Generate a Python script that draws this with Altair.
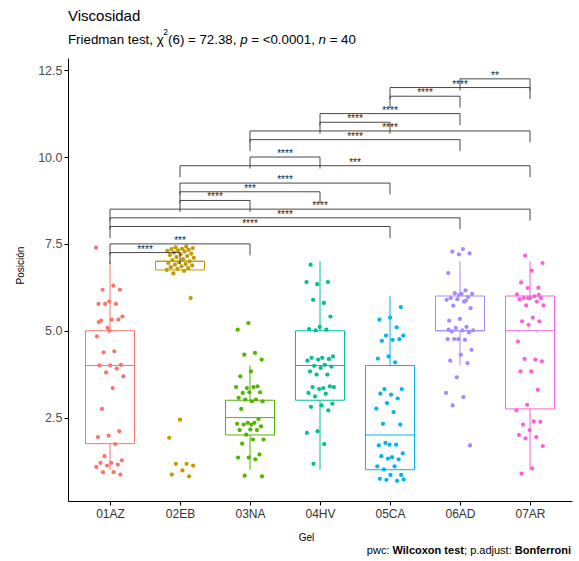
import altair as alt
import pandas as pd

# ---------------- data ----------------
groups = ["01AZ", "02EB", "03NA", "04HV", "05CA", "06AD", "07AR"]
colors = ["#F8766D", "#C49A00", "#53B400", "#00C094", "#00B6EB", "#A58AFF", "#FB61D7"]

pos_01AZ = [7.39, 6.30, 6.18, 6.18, 5.84, 5.77, 5.77, 5.77, 5.41, 5.32,
            5.29, 5.32, 5.08, 4.84, 4.41, 4.38, 4.02, 4.00, 4.00, 3.91,
            3.80, 3.69, 3.35, 2.75, 2.11, 1.98, 1.94, 1.74, 1.39, 1.27,
            1.20, 1.20, 1.15, 1.12, 1.08, 0.93, 0.93, 0.86, 5.00, 5.25]
pos_02EB = [7.42, 7.40, 7.38, 7.36, 7.35, 7.33, 7.31, 7.30, 7.28, 7.25,
            7.22, 7.20, 7.18, 7.15, 7.12, 7.10, 7.06, 7.03, 7.00, 6.97,
            6.95, 6.92, 6.90, 6.88, 6.85, 6.83, 6.80, 6.78, 6.75, 6.72,
            6.65, 5.94, 2.44, 1.92, 1.17, 1.17, 1.12, 0.98, 0.86, 0.81]
pos_03NA = [5.22, 5.03, 4.36, 4.31, 4.17, 3.83, 3.69, 3.40, 3.35, 3.38,
            3.38, 3.21, 3.23, 3.23, 3.07, 3.02, 3.02, 2.97, 2.97, 2.75,
            2.46, 2.35, 2.32, 2.35, 2.30, 2.25, 2.16, 2.14, 2.14, 2.01,
            1.87, 1.87, 1.75, 1.44, 1.35, 1.35, 1.30, 0.83, 0.81, 2.30]
pos_04HV = [6.90, 6.40, 6.34, 6.40, 5.80, 5.89, 5.41, 5.11, 5.05, 5.03,
            5.01, 4.26, 4.22, 4.22, 4.19, 4.17, 4.14, 4.02, 3.99, 3.97,
            3.93, 3.83, 3.74, 3.74, 3.38, 3.35, 3.38, 3.40, 3.32, 3.21,
            3.19, 3.11, 2.90, 2.85, 2.81, 2.71, 2.11, 2.06, 1.74, 1.17]
pos_05CA = [5.68, 5.38, 5.32, 5.10, 4.86, 4.86, 4.74, 4.71, 4.76, 4.26,
            4.20, 4.09, 3.32, 3.32, 3.16, 3.19, 3.05, 2.92, 2.76, 2.66,
            2.32, 2.30, 1.72, 1.70, 1.72, 1.77, 1.47, 1.36, 1.39, 1.30,
            1.32, 1.10, 1.10, 1.01, 0.85, 0.85, 0.74, 0.68, 0.71, 0.72]
pos_06AD = [7.35, 7.28, 7.23, 7.20, 6.66, 6.16, 6.08, 6.06, 6.06, 5.94,
            5.97, 5.91, 5.89, 5.84, 5.72, 5.65, 5.34, 5.29, 5.11, 5.08,
            5.01, 5.01, 4.98, 4.95, 4.76, 4.76, 4.74, 4.76, 4.45, 4.31,
            4.14, 4.07, 3.66, 3.21, 3.09, 2.85, 1.70, 6.03, 5.03, 5.87]
pos_07AR = [7.16, 6.95, 6.73, 6.39, 6.24, 6.23, 6.05, 5.99, 5.94, 5.94,
            5.94, 5.91, 5.84, 5.73, 5.73, 5.38, 5.27, 5.27, 5.17, 4.69,
            4.17, 4.19, 4.12, 3.83, 3.83, 3.30, 2.87, 2.71, 2.39, 2.30,
            2.38, 2.14, 2.00, 1.94, 1.90, 1.68, 1.04, 0.89, 6.03, 5.94]

# box-plot statistics (ranks)
box_lower = [1, 7, 1, 1, 1, 4, 1]
box_q1 = [1.75, 6.75, 2, 3, 1, 5, 2.75]
box_median = [4, 7, 2.5, 4, 2, 5, 5]
box_q3 = [5, 7, 3, 5, 4, 6, 6]
box_upper = [7, 7, 4, 7, 6, 7, 7]

# pairwise comparisons (Wilcoxon, Bonferroni), significant only
pair_g1 = ["01AZ", "01AZ", "01AZ", "01AZ", "01AZ", "02EB", "02EB", "02EB", "02EB",
           "03NA", "03NA", "03NA", "04HV", "04HV", "05CA", "05CA", "06AD"]
pair_g2 = ["02EB", "03NA", "05CA", "06AD", "07AR", "03NA", "04HV", "05CA", "07AR",
           "04HV", "06AD", "07AR", "05CA", "06AD", "06AD", "07AR", "07AR"]
pair_y = [7.25, 7.5, 8.0, 8.25, 8.5, 8.75, 9.0, 9.25, 9.75,
          10.0, 10.5, 10.75, 11.0, 11.25, 11.75, 12.0, 12.25]
pair_label = ["****", "***", "****", "****", "****", "****", "***", "****", "***",
              "****", "****", "****", "****", "****", "****", "****", "**"]

title_text = "Viscosidad"
y_ticks = [2.5, 5.0, 7.5, 10.0, 12.5]

# ---------------- tables ----------------
all_pos = [pos_01AZ, pos_02EB, pos_03NA, pos_04HV, pos_05CA, pos_06AD, pos_07AR]
rows = []
for gi, (g, vals) in enumerate(zip(groups, all_pos)):
    for k, v in enumerate(vals):
        rows.append({"group": g, "gi": gi, "idx": gi * 40 + k, "pos": v})
pts = pd.DataFrame(rows)

box = pd.DataFrame({"group": groups, "gi": list(range(len(groups))),
                    "lower": box_lower, "q1": box_q1, "median": box_median,
                    "q3": box_q3, "upper": box_upper})

gidx = {g: i for i, g in enumerate(groups)}
pairs = pd.DataFrame({"g1": [gidx[g] for g in pair_g1], "g2": [gidx[g] for g in pair_g2],
                      "y": pair_y, "label": pair_label})

# ---------------- styling ----------------
FONT = "Liberation Sans"
W, H = 504, 443
PAD_L, PAD_T = 68, 58
TIP = 0.33
HALF = 0.35

label_expr = "[" + ",".join("'%s'" % g for g in groups) + "][datum.value]"
xscale = alt.Scale(domain=[-0.6, 6.6], nice=False, zero=False)
yscale = alt.Scale(domain=[0.1, 12.85], nice=False, zero=False)
xaxis = alt.Axis(values=list(range(len(groups))), labelExpr=label_expr, grid=False,
                 domainColor="black", tickColor="black", tickSize=4, domainWidth=1,
                 labelFontSize=12, labelColor="#333333", labelPadding=3, labelFont=FONT,
                 titleFont=FONT, titleFontSize=10, titleFontWeight="normal",
                 titleColor="black", titleX=238, titleY=36, titleBaseline="middle")
yaxis = alt.Axis(values=y_ticks, format=".1f", grid=False, domainColor="black",
                 tickColor="black", tickSize=4, domainWidth=1, labelFontSize=12.5,
                 labelColor="#4D4D4D", labelPadding=2, labelFont=FONT,
                 titleFont=FONT, titleFontSize=10, titleFontWeight="normal",
                 titleColor="black", titleX=-48, titleY=207, titleBaseline="middle",
                 titleAngle=270)


def X(field):
    return alt.X(field, type="quantitative", scale=xscale, axis=xaxis, title="Gel")


def Y(field):
    return alt.Y(field, type="quantitative", scale=yscale, axis=yaxis, title="Posición")


col = alt.Scale(domain=groups, range=colors)

whisker = alt.Chart(box).mark_rule(strokeWidth=1).encode(
    x=X("gi"), y=Y("lower"), y2="upper",
    color=alt.Color("group:N", scale=col, legend=None))

boxes = alt.Chart(box).transform_calculate(
    xl="datum.gi - %f" % HALF, xr="datum.gi + %f" % HALF
).mark_bar(fill="white", strokeWidth=1).encode(
    x=X("xl"), x2="xr", y=Y("q1"), y2="q3",
    stroke=alt.Stroke("group:N", scale=col, legend=None))

medians = alt.Chart(box).transform_calculate(
    xl="datum.gi - %f" % HALF, xr="datum.gi + %f" % HALF
).mark_rule(strokeWidth=1).encode(
    x=X("xl"), x2="xr", y=Y("median"),
    color=alt.Color("group:N", scale=col, legend=None))

points = alt.Chart(pts).transform_calculate(
    xj="datum.gi + ((datum.idx * 0.6180339887) % 1 - 0.5) * 0.4"
).mark_circle(size=18, opacity=1).encode(
    x=X("xj"), y=Y("pos"),
    color=alt.Color("group:N", scale=col, legend=None))

BR = "#333333"
hline = alt.Chart(pairs).mark_rule(color=BR, strokeWidth=0.9).encode(
    x=X("g1"), x2="g2", y=Y("y"))
ltip = alt.Chart(pairs).transform_calculate(yb="datum.y - %f" % TIP).mark_rule(
    color=BR, strokeWidth=0.9).encode(x=X("g1"), y=Y("y"), y2="yb")
rtip = alt.Chart(pairs).transform_calculate(yb="datum.y - %f" % TIP).mark_rule(
    color=BR, strokeWidth=0.9).encode(x=X("g2"), y=Y("y"), y2="yb")
labels = alt.Chart(pairs).transform_calculate(xm="(datum.g1 + datum.g2) / 2").mark_text(
    font=FONT, fontSize=10, baseline="alphabetic", dy=0, color="#222222").encode(
    x=X("xm"), y=Y("y"), text="label:N")

# ---------------- rich text (title, subtitle, caption) ----------------
REG = {' ': 278, '(': 333, ')': 333, ',': 278, '.': 278, ':': 278, ';': 278, '<': 584,
       '=': 584, 'F': 611, 'a': 556, 'c': 500, 'd': 556, 'e': 556, 'i': 222, 'j': 222,
       'm': 833, 'n': 556, 'p': 556, 'r': 333, 's': 500, 't': 278, 'u': 556, 'w': 722,
       'χ': 500}
BOLD = {' ': 278, 'B': 722, 'W': 944, 'c': 556, 'e': 556, 'f': 333, 'i': 278, 'l': 278,
        'n': 611, 'o': 611, 'r': 389, 's': 556, 't': 333, 'x': 556}


def width(s, size, bold=False):
    tab = BOLD if bold else REG
    return sum(556 if ch.isdigit() else tab.get(ch, 556) for ch in s) * size / 1000.0


def txt(s, x, y, size, weight="normal", style="normal", align="left", color="black"):
    return alt.Chart(pd.DataFrame({"s": [s]})).mark_text(
        align=align, baseline="alphabetic", fontSize=size, fontWeight=weight,
        fontStyle=style, font=FONT, color=color).encode(
        x=alt.value(x), y=alt.value(y), text="s:N")


def rich(pieces, x0, y0):
    """Place text pieces side by side; leading spaces become offsets (SVG drops them)."""
    out = []
    cx = x0
    for s, sz, bold, style, dy in pieces:
        stripped = s.lstrip(" ")
        cx += width(s[:len(s) - len(stripped)], sz, bold)
        out.append(txt(stripped, cx, y0 + dy, sz, weight="bold" if bold else "normal",
                       style=style))
        cx += width(stripped, sz, bold)
    return out


texts = [txt(title_text, 0, -37.5, 15)]

SUB = 13.3
sub_pieces = [("Friedman test, χ", SUB, False, "normal", 0),
              ("2", 8.5, False, "normal", -9),
              ("(6) = 72.38, ", SUB, False, "normal", 0),
              ("p", SUB, False, "italic", 0),
              (" = <0.0001, ", SUB, False, "normal", 0),
              ("n", SUB, False, "italic", 0),
              (" = 40", SUB, False, "normal", 0)]
texts += rich(sub_pieces, 0, -14.3)

CAP = 11
cap_pieces = [("pwc: ", CAP, False, "normal", 0),
              ("Wilcoxon test", CAP, True, "normal", 0),
              ("; p.adjust: ", CAP, False, "normal", 0),
              ("Bonferroni", CAP, True, "normal", 0)]
total = sum(width(p[0], CAP, p[2]) for p in cap_pieces)
texts += rich(cap_pieces, W - 1 - total, 496)

chart = alt.layer(whisker, boxes, medians, points, hline, ltip, rtip, labels, *texts).properties(
    width=W, height=H,
    autosize=alt.AutoSizeParams(type="none"),
    padding={"left": PAD_L, "top": PAD_T, "right": 579 - PAD_L - W, "bottom": 561 - PAD_T - H},
    background="white",
).configure_view(stroke=None)

chart.save("out.html", embed_options={"renderer": "svg", "actions": False})
